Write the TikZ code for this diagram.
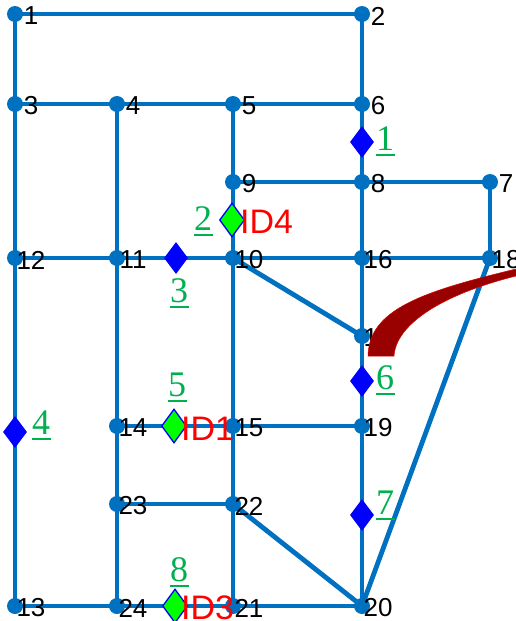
\documentclass[tikz,border=0pt]{standalone}
\usepackage{fontspec}
\setmainfont{Liberation Sans}
\newfontfamily\gserif{Liberation Serif}
\usetikzlibrary{shapes.geometric}
\definecolor{lineblue}{HTML}{0070C0}
\definecolor{gnumc}{HTML}{00B050}
\definecolor{darkred}{HTML}{990000}
\newcommand\gnum[1]{\makebox[19pt]{#1}\llap{\rule[-6pt]{19pt}{1.8pt}}}
\tikzset{
  x=1pt,y=-1pt,
  pt/.style={circle,fill=lineblue,minimum size=16pt,inner sep=0pt},
  edge/.style={draw=lineblue,line width=4.8pt},
  lbl/.style={inner sep=0pt,text=black,font=\fontsize{26}{26}\selectfont,xshift=16pt,yshift=-2pt},
  dmd/.style={diamond,aspect=0.75,minimum width=24pt,minimum height=32pt,inner sep=0pt,fill=blue},
  gdmd/.style={dmd,fill=green,draw=blue,line width=1.3pt,minimum width=25pt,minimum height=34pt},
  idl/.style={inner sep=0pt,anchor=west,text=red,font=\fontsize{34}{34}\selectfont},
  gnl/.style={inner sep=0pt,anchor=base,text=gnumc,font=\gserif\fontsize{36}{36}\selectfont},
}
\begin{document}
\begin{tikzpicture}
\useasboundingbox (0,0) rectangle (516,621);
\clip (0,0) rectangle (516,621);
\foreach \n/\a/\b in {1/15/14,2/362/14,3/15/104,4/117/104,5/233/104,6/362/104,7/490/182,8/362/182,9/233/182,10/233/258,11/117/258,12/15/258,16/362/258,18/490/258,17/362/336,19/362/426,14/117/426,15/233/426,23/117/504,22/233/504,13/15/606,24/117/606,21/233/606,20/362/606}
  {\node[pt] (n\n) at (\a,\b) {};}
\foreach \p/\q in {1/2,1/3,3/12,12/13,3/4,4/5,5/6,2/6,6/8,8/16,16/17,17/19,19/20,4/11,11/14,14/24,5/9,9/10,10/15,15/21,9/8,8/7,7/18,12/11,11/10,10/16,16/18,10/17,14/15,15/19,23/22,22/20,13/24,24/21,21/20,20/18}
  {\draw[edge] (n\p.center) -- (n\q.center);}
\foreach \n in {1,...,24}
  {\node[lbl] (l\n) at (n\n) {\n};}
\foreach \n/\a/\b in {1/362/142,3/176/258,4/15/432,6/362/381,7/362/515}
  {\node[dmd] (d\n) at (\a,\b) {};}
\foreach \n/\a/\b in {2/232/220,5/174/426,8/175/606}
  {\node[gdmd] (d\n) at (\a,\b) {};}
\node[idl] (id4) at (240,222) {ID4};
\node[idl] (id1) at (181,429) {ID1};
\node[idl] (id3) at (181,608) {ID3};
\foreach \n/\a/\b in {1/385/150,2/203/230,3/179/302,4/41/434,5/177/396,6/385/389,7/385/514,8/179/581}
  {\node[gnl] (g\n) at (\a,\b) {\gnum{\n}};}
\fill[darkred,draw=red!70!darkred,line width=0.5pt] (368,356) .. controls (369,310) and (420,292) .. (516,269) -- (516,276) .. controls (440,295) and (396,325) .. (394,356) -- cycle;
\end{tikzpicture}
\end{document}
